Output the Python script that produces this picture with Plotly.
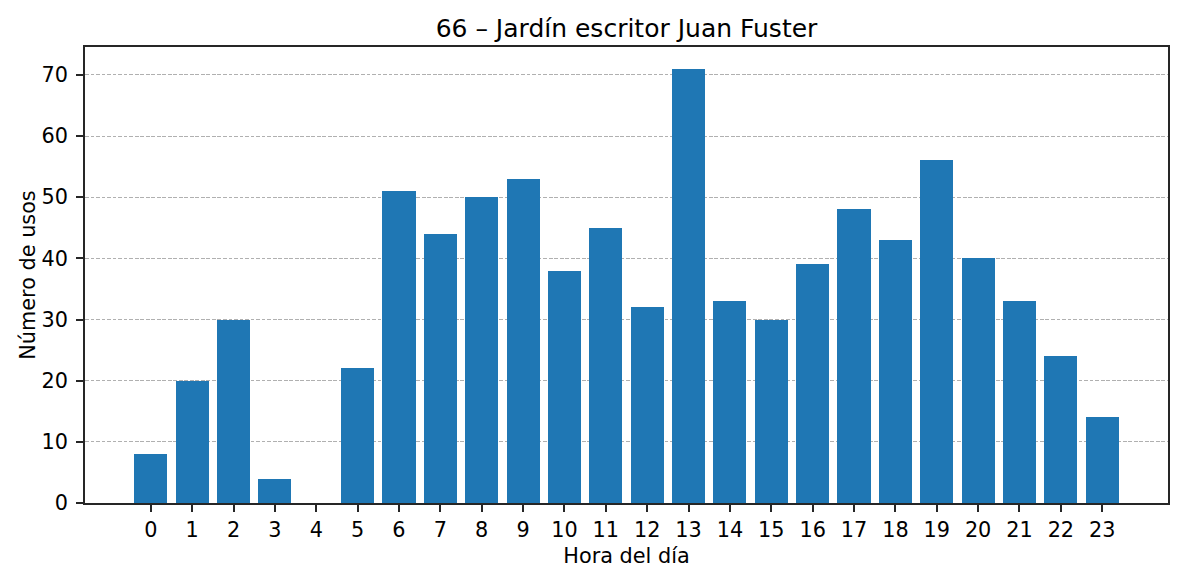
import plotly.graph_objects as go

hours = list(range(24))
usos = [8, 20, 30, 4, 0, 22, 51, 44, 50, 53, 38, 45, 32, 71, 33, 30, 39, 48, 43, 56, 40, 33, 24, 14]
title = "66 – Jardín escritor Juan Fuster"
xlabel = "Hora del día"
ylabel = "Número de usos"

fig = go.Figure(go.Bar(x=hours, y=usos, width=0.8, marker=dict(color="#1f77b4", line=dict(width=0))))

axis_common = dict(
    showline=True, linecolor="#262626", linewidth=1.6, mirror=True,
    ticks="outside", ticklen=7, tickwidth=1.6, tickcolor="#262626",
    tickfont=dict(family="DejaVu Sans", size=20.8, color="black"),
    zeroline=False,
)
fig.update_layout(
    width=1184, height=581,
    margin=dict(l=85, r=16, t=47, b=78),
    paper_bgcolor="white", plot_bgcolor="white",
    title=dict(text=title, x=0.5, xref="paper", xanchor="center", y=1 - 28/581, yanchor="middle",
               font=dict(family="DejaVu Sans", size=25, color="black")),
    font=dict(family="DejaVu Sans", color="black"),
    showlegend=False,
    bargap=0,
)
fig.update_xaxes(
    **axis_common, range=[-1.59, 24.59], tickmode="array", tickvals=hours,
    ticktext=[str(h) for h in hours], showgrid=False,
    title=dict(text=xlabel, font=dict(family="DejaVu Sans", size=20.8), standoff=8),
)
fig.update_yaxes(
    **axis_common, range=[0, 74.55], tickvals=[0, 10, 20, 30, 40, 50, 60, 70],
    ticklabelstandoff=4,
    showgrid=True, gridcolor="#b0b0b0", gridwidth=1, griddash="3.85px,1.67px",
    layer="above traces",
    title=dict(text=ylabel, font=dict(family="DejaVu Sans", size=20.8), standoff=0),
)
fig.write_html("out.html")
